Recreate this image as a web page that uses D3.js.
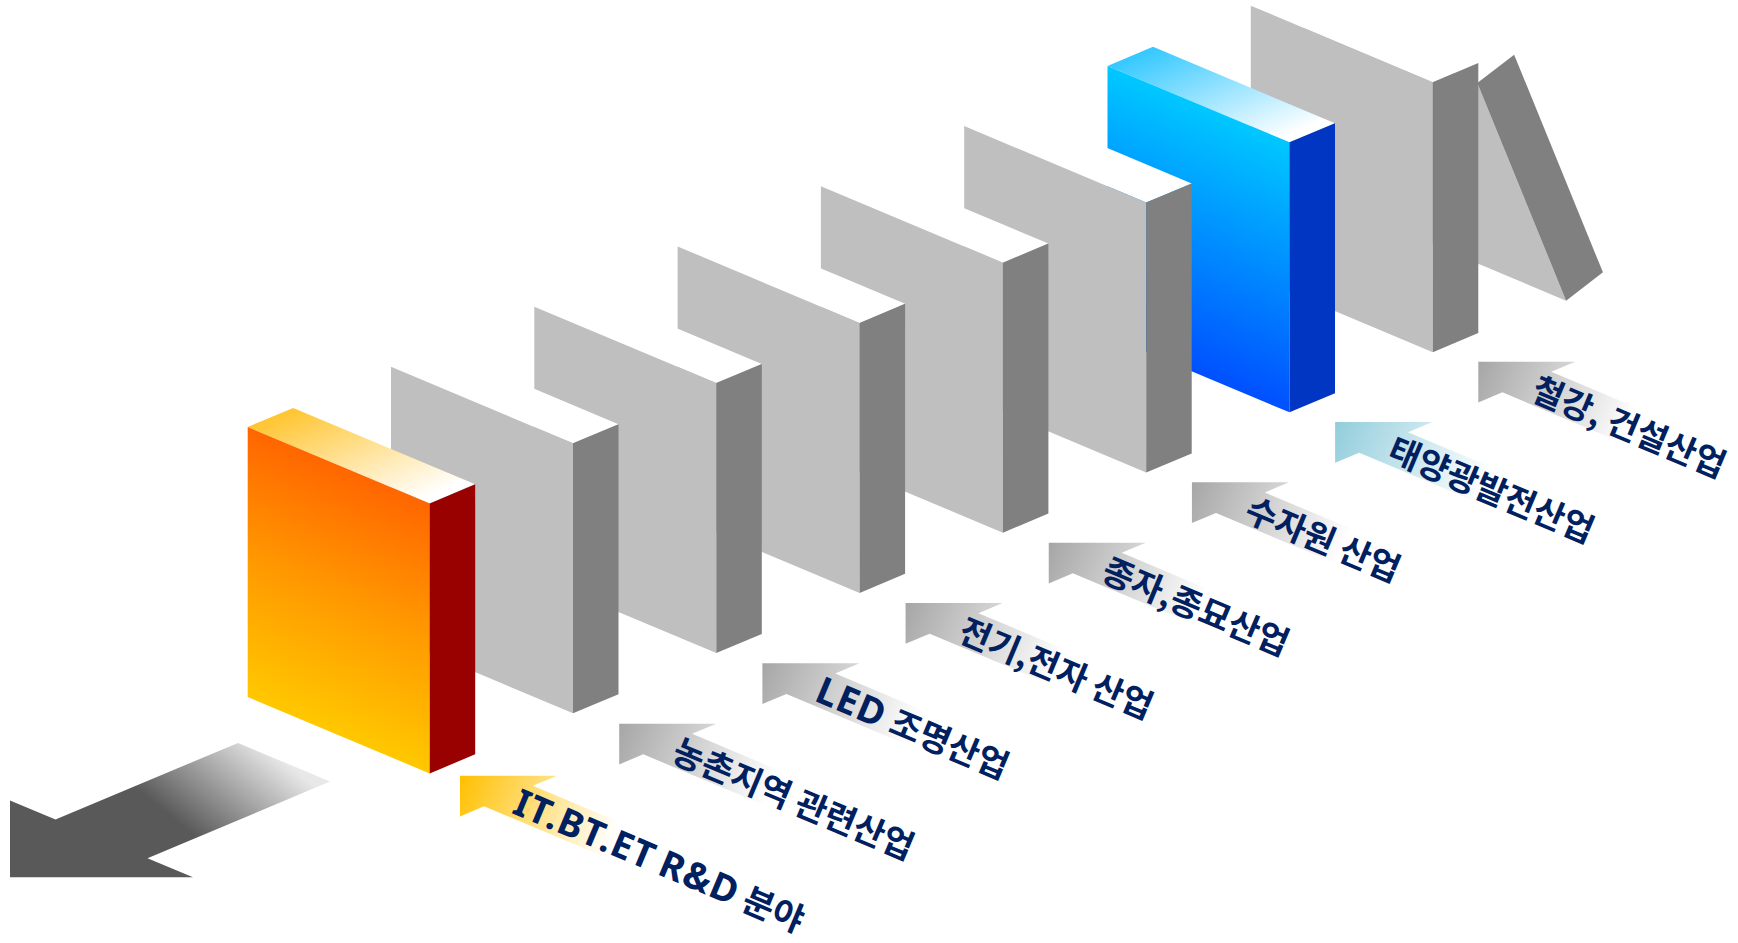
<!DOCTYPE html>
<html><head><meta charset="utf-8">
<script src="https://cdn.jsdelivr.net/npm/d3@7"></script>
<style>html,body{margin:0;padding:0;background:#fff;overflow:hidden}</style>
</head><body>
<svg id="chart" width="1738" height="943"></svg>
<script>
// ---------- data ----------
const categories = ["IT.BT.ET R&D 분야","농촌지역 관련산업","LED 조명산업","전기,전자 산업","종자,종묘산업","수자원 산업","태양광발전산업","철강, 건설산업"];
const blockThemes = ["orange","gray","gray","gray","gray","gray","blue","gray"];
const blockIndex = [0,1,2,3,4,5,6,7];
const fallingIndex = [8];

// ---------- styles ----------
const themes = {
  orange:{front:[["0","#ff6600"],["0.5","#ff9a00"],["1","#ffc800"]], side:"#990000", top:["#ffc530","#ffffff"], arrow:"#ffc000"},
  blue:{front:[["0","#00c8ff"],["1","#0050ff"]], side:"#0036c2", top:["#33c8ff","#ffffff"], arrow:"#92cddc"},
  gray:{front:[["0","#bfbfbf"],["1","#bfbfbf"]], side:"#808080", top:["#ffffff","#ffffff"], arrow:"#a6a6a6"}
};

// ---------- geometry ----------
const K = 0.42, X0 = 247.7, Y0 = 697, W = 182, H = 270, D = 45.5;
const ANG = Math.atan(K)*180/Math.PI;
const zScale = d3.scaleLinear().domain([0,1]).range([0,143.3]);
const tipX = d3.scaleLinear().domain([0,1,7]).range([460,619.2,1478.3]);
const tipY = d3.scaleLinear().domain([0,1,7]).range([775.7,723.7,361.7]);
const proj = (x,z,h)=>[X0 + x + z, Y0 + K*x - K*z - h];

const svg = d3.select("#chart");
const defs = svg.append("defs");

Object.entries(themes).forEach(([k,t])=>{
  const gf = defs.append("linearGradient").attr("id","front-"+k).attr("x1",0).attr("y1",0).attr("x2",0).attr("y2",1);
  t.front.forEach(([o,c])=>gf.append("stop").attr("offset",o).attr("stop-color",c));
  const gt = defs.append("linearGradient").attr("id","top-"+k).attr("x1",0).attr("y1",0).attr("x2",1).attr("y2",0);
  gt.append("stop").attr("offset",0).attr("stop-color",t.top[0]);
  gt.append("stop").attr("offset",0.95).attr("stop-color",t.top[1]);
});

// ---------- big falling-direction arrow (floor plane) ----------
const big = {cx:95.8, tipZ:-333.5, head:91.5, shaftHalf:46, endZ:-59.5};
const bigPts = [
  [big.cx, big.tipZ],
  [big.cx+big.head, big.tipZ+big.head],
  [big.cx+big.shaftHalf, big.tipZ+big.head],
  [big.cx+big.shaftHalf, big.endZ],
  [big.cx-big.shaftHalf, big.endZ],
  [big.cx-big.shaftHalf, big.tipZ+big.head],
  [big.cx-big.head, big.tipZ+big.head]
].map(([x,z])=>proj(x,z,0));
const bg = defs.append("linearGradient").attr("id","bigArrow").attr("gradientUnits","userSpaceOnUse")
  .attr("x1",160).attr("y1",808).attr("x2",232).attr("y2",719);
bg.append("stop").attr("offset",0).attr("stop-color","#595959");
bg.append("stop").attr("offset",1).attr("stop-color","#e8e8e8");
svg.append("polygon").attr("points",bigPts.map(p=>p.join(",")).join(" ")).attr("fill","url(#bigArrow)");

// ---------- falling block ----------
const fall = svg.append("g");
fallingIndex.forEach(i=>{
  const zF = zScale(i) - 10, th = 19.2*Math.PI/180, Df = 39, hOff = -4.5;
  const s = Math.sin(th), c = Math.cos(th);
  const P = (x,zz,h)=>proj(x,zz,h+hOff);
  const front = [P(0,zF,0),P(W,zF,0),P(W,zF-H*s,H*c),P(0,zF-H*s,H*c)];
  const side = [P(W,zF,0),P(W,zF+Df*c,Df*s),P(W,zF+Df*c-H*s,Df*s+H*c),P(W,zF-H*s,H*c)];
  fall.append("polygon").attr("points",front.map(p=>p.join(",")).join(" ")).attr("fill","#bfbfbf");
  fall.append("polygon").attr("points",side.map(p=>p.join(",")).join(" ")).attr("fill","#808080");
});

// ---------- standing blocks (far to near) ----------
const blocks = svg.append("g");
blockIndex.slice().reverse().forEach(i=>{
  const t = blockThemes[i], zf = zScale(i);
  const g = blocks.append("g");
  const tl = proj(0,zf,H), tr = proj(W,zf,H);
  g.append("rect").attr("width",W).attr("height",D)
    .attr("transform",`matrix(1,${K},1,${-K},${tl[0]},${tl[1]})`)
    .attr("fill",`url(#top-${t})`);
  g.append("rect").attr("width",W).attr("height",H)
    .attr("transform",`translate(${tl[0]},${tl[1]}) skewY(${ANG})`)
    .attr("fill",`url(#front-${t})`);
  g.append("rect").attr("width",D).attr("height",H)
    .attr("transform",`translate(${tr[0]},${tr[1]}) skewY(${-ANG})`)
    .attr("fill",themes[t].side);
});

// ---------- label arrows ----------
const ux = Math.cos(ANG*Math.PI/180), uy = Math.sin(ANG*Math.PI/180);
const labels = svg.append("g");
categories.forEach((name,i)=>{
  const tx = tipX(i), ty = tipY(i), L = 260, hd = 48.5, sh = 24.4;
  const pts = [[0,0],[hd,hd],[hd,sh],[L,sh],[L,-sh],[hd,-sh],[hd,-hd]]
    .map(([a,b])=>[tx + a + b, ty + K*(a-b)]);
  const gid = "lab"+i;
  const gr = defs.append("linearGradient").attr("id",gid).attr("gradientUnits","userSpaceOnUse")
    .attr("x1",tx).attr("y1",ty).attr("x2",tx+165*ux).attr("y2",ty+165*uy);
  gr.append("stop").attr("offset",0).attr("stop-color",themes[blockThemes[i]].arrow);
  gr.append("stop").attr("offset",1).attr("stop-color","#ffffff");
  labels.append("polygon").attr("points",pts.map(p=>p.join(",")).join(" ")).attr("fill",`url(#${gid})`);
  const txt = labels.append("text")
    .attr("transform",`translate(${tx},${ty}) rotate(${ANG})`)
    .attr("x",61).attr("y",-0.5)
    .attr("dominant-baseline","central")
    .attr("font-weight",700)
    .attr("fill","#002060");
  const runs = name.match(/[A-Za-z0-9.&]+|[^A-Za-z0-9.&]+/g);
  runs.forEach(r=>{
    const latin = /^[A-Za-z0-9.&]/.test(r);
    txt.append("tspan")
      .attr("font-family", latin ? "'Noto Sans','Noto Sans CJK KR',sans-serif" : "'Noto Sans CJK KR','Noto Sans',sans-serif")
      .attr("font-size", latin ? 37.5 : 34)
      .attr("letter-spacing", latin ? 1 : 0)
      .text(r);
  });
});
</script>
</body></html>
